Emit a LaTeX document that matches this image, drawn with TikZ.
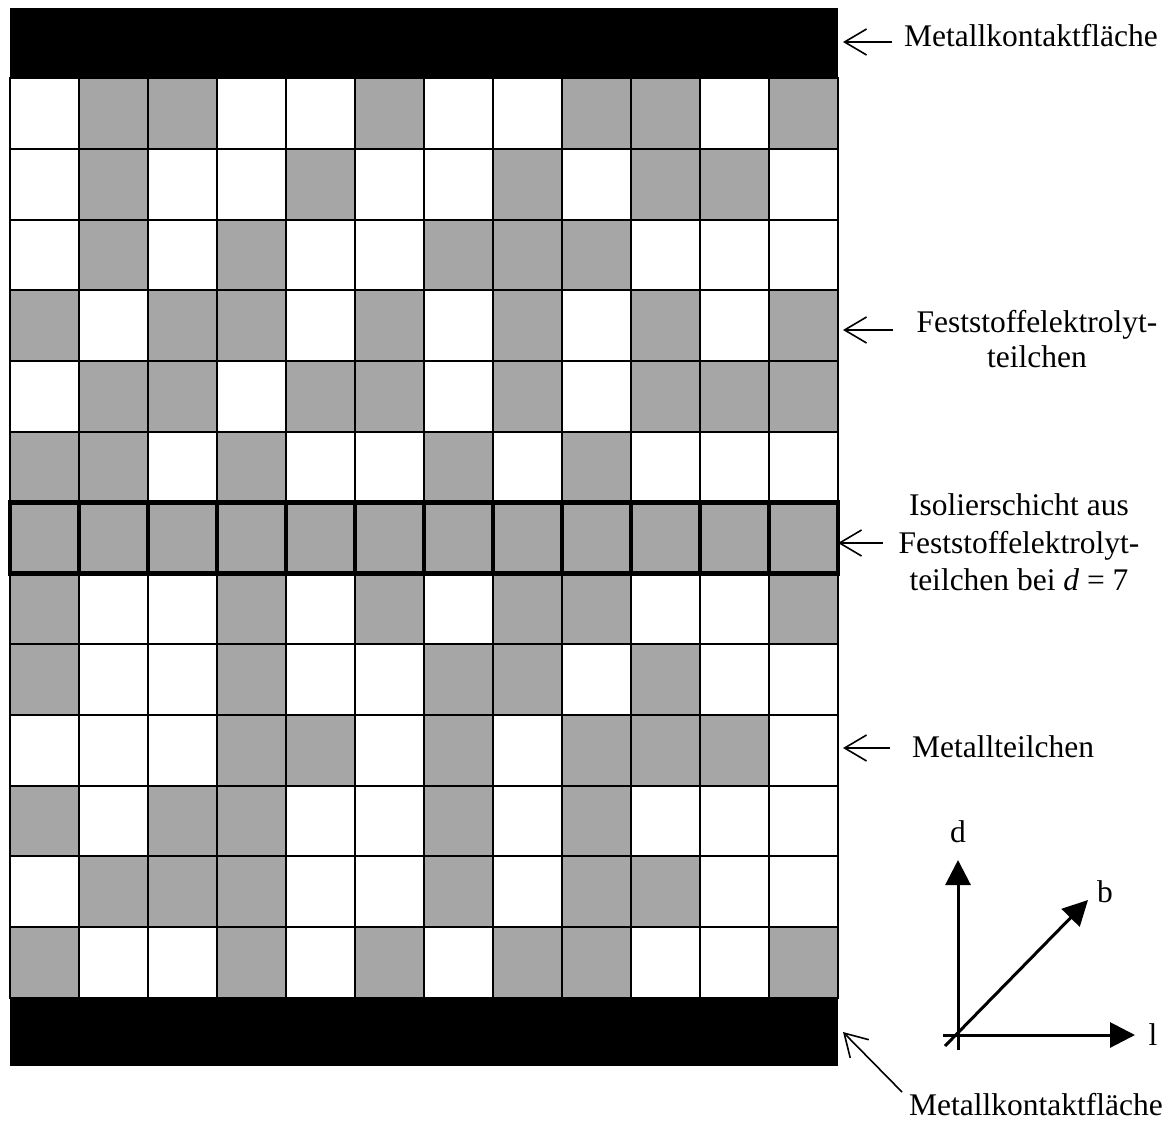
\documentclass[tikz,border=0pt]{standalone}
\usepackage{fontspec}
\setmainfont{Liberation Serif}
\usetikzlibrary{arrows.meta}
\definecolor{cellgray}{RGB}{166,166,166}
\begin{document}
\begin{tikzpicture}[x=1pt,y=-1pt,
  cell/.style={draw=black, line width=2pt, minimum width=69pt, minimum height=70.77pt,
               inner sep=0pt, outer sep=0pt, anchor=north west},
  cell0/.style={cell, fill=white},
  cell1/.style={cell, fill=cellgray},
  cell2/.style={cell, fill=cellgray},
  bar/.style={fill=black, draw=none, minimum width=828pt, inner sep=0pt, outer sep=0pt, anchor=north west},
  lbl/.style={font=\fontsize{31.5}{37}\selectfont, inner sep=0pt, anchor=base},
  axlbl/.style={font=\fontsize{31.5}{37}\selectfont, inner sep=0pt, anchor=center},
  ptr/.style={draw, line width=1.6pt, -{Straight Barb[length=22pt,width=26pt]}},
  axis/.style={draw, line width=3pt, -{Triangle[length=25pt,width=25pt]}},
]
\fill[white] (0,0) rectangle (1175,1124);
\useasboundingbox (0,0) rectangle (1175,1124);

% metal contact bars
\node[bar, minimum height=70pt] (topbar) at (10,8) {};
\node[bar, minimum height=68pt] (botbar) at (10,998) {};

% particle grid
\foreach \rowvals [count=\r] in {
 {0,1,1,0,0,1,0,0,1,1,0,1},
 {0,1,0,0,1,0,0,1,0,1,1,0},
 {0,1,0,1,0,0,1,1,1,0,0,0},
 {1,0,1,1,0,1,0,1,0,1,0,1},
 {0,1,1,0,1,1,0,1,0,1,1,1},
 {1,1,0,1,0,0,1,0,1,0,0,0},
 {2,2,2,2,2,2,2,2,2,2,2,2},
 {1,0,0,1,0,1,0,1,1,0,0,1},
 {1,0,0,1,0,0,1,1,0,1,0,0},
 {0,0,0,1,1,0,1,0,1,1,1,0},
 {1,0,1,1,0,0,1,0,1,0,0,0},
 {0,1,1,1,0,0,1,0,1,1,0,0},
 {1,0,0,1,0,1,0,1,1,0,0,1}} {
  \foreach \v [count=\c] in \rowvals {
    \node[cell\v] (c-\r-\c) at ({10+(\c-1)*69},{78+(\r-1)*70.77}) {};
  }
}
% insulating layer: thick borders
\foreach \c in {1,...,12} {
  \draw[line width=4.5pt] (c-7-\c.north west) rectangle (c-7-\c.south east);
}

% labels
\node[lbl] (mk1) at (1031,47) {Metallkontaktfläche};
\node[lbl] (fe1) at (1037,332) {Feststoffelektrolyt-};
\node[lbl] (fe2) at (1037,367) {teilchen};
\node[lbl] (is1) at (1019,515) {Isolierschicht aus};
\node[lbl] (is2) at (1019,553) {Feststoffelektrolyt-};
\node[lbl] (is3) at (1019,590) {teilchen bei \textit{d} = 7};
\node[lbl] (mt) at (1003,757) {Metallteilchen};
\node[lbl] (mk2) at (1036,1115) {Metallkontaktfläche};

% pointer arrows
\coordinate (a1s) at (892,42);   \coordinate (a1e) at (843,42);
\coordinate (a2s) at (893,330);  \coordinate (a2e) at (843,330);
\coordinate (a3s) at (883,543);  \coordinate (a3e) at (838,543);
\coordinate (a4s) at (890,748);  \coordinate (a4e) at (843,748);
\coordinate (a5s) at (902,1092); \coordinate (a5e) at (843,1032);
\draw[ptr] (a1s) -- (a1e);
\draw[ptr] (a2s) -- (a2e);
\draw[ptr] (a3s) -- (a3e);
\draw[ptr] (a4s) -- (a4e);
\draw[ptr] (a5s) -- (a5e);

% axes
\coordinate (dS) at (958,1050);  \coordinate (dE) at (958,860);
\coordinate (lS) at (943,1035);  \coordinate (lE) at (1135,1035);
\coordinate (bS) at (945,1046);  \coordinate (bE) at (1088,900);
\draw[axis] (dS) -- (dE);
\draw[axis] (lS) -- (lE);
\draw[axis] (bS) -- (bE);
\node[axlbl] (dl) at (958,832) {d};
\node[axlbl] (bl) at (1105,892) {b};
\node[axlbl] (ll) at (1153,1035) {l};
\end{tikzpicture}
\end{document}
